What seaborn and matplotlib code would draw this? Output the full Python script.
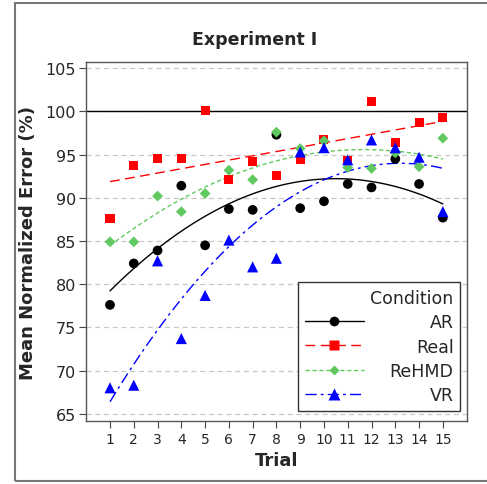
import numpy as np
import pandas as pd
import seaborn as sns
from matplotlib import pyplot as plt
from matplotlib.lines import Line2D
from matplotlib.patches import Rectangle

# Data
trials = list(range(1, 16))
ar = [77.6, 82.4, 83.9, 91.4, 84.5, 88.7, 88.6, 97.3, 88.8, 89.6, 91.6, 91.2, 94.5, 91.6, 87.7]
real = [87.6, 93.7, 94.5, 94.6, 100.1, 92.1, 94.2, 92.6, 94.4, 96.8, 94.3, 101.1, 96.4, 98.7, 99.3]
rehmd = [84.9, 84.9, 90.2, 88.4, 90.5, 93.2, 92.1, 97.6, 95.7, 96.6, 93.5, 93.4, 95.2, 93.6, 96.9]
vr = [68.0, 68.3, 82.7, 73.7, 78.7, 85.1, 82.0, 83.0, 95.3, 95.8, 94.4, 96.7, 95.8, 94.7, 88.4]

conditions = ['AR', 'Real', 'ReHMD', 'VR']
values = [ar, real, rehmd, vr]
colors = ['black', '#ff0000', '#5fc95f', '#0000ff']
markers = ['o', 's', 'D', '^']
msizes = [7, 6.5, 5.5, 8]
fit_order = [2, 1, 2, 2]
linestyles = ['-', (0, (7, 4)), (0, (3, 2)), (0, (8, 3, 2, 3))]

yticks = [65, 70, 75, 80, 85, 90, 95, 100, 105]

df = pd.DataFrame({
    'Trial': trials * 4,
    'Error': ar + real + rehmd + vr,
    'Condition': np.repeat(conditions, len(trials)),
})

sns.set_style('white')
plt.rcParams['font.family'] = ['DejaVu Sans']

fig = plt.figure(figsize=(4.87, 4.85), dpi=100)
ax = fig.add_axes([0.1756, 0.1305, 0.784, 0.739])

# grid + reference line
for y in yticks:
    ax.axhline(y, color='#c8c8c8', lw=0.9, ls=(0, (4, 3)), zorder=0)
ax.axhline(100, color='black', lw=1.0, zorder=1)

handles = []
for cond, col, mk, ms, order, ls in zip(conditions, colors, markers, msizes, fit_order, linestyles):
    sub = df[df['Condition'] == cond]
    sns.regplot(data=sub, x='Trial', y='Error', order=order, ci=None, ax=ax,
                scatter=False, truncate=True,
                line_kws=dict(color=col, lw=1.0, ls=ls, zorder=2))
    sns.scatterplot(data=sub, x='Trial', y='Error', ax=ax, color=col,
                    marker=mk, s=ms ** 2, edgecolor='none', zorder=3)
    handles.append(Line2D([], [], color=col, lw=1.0, ls=ls, marker=mk,
                          markersize=ms, markeredgecolor='none'))

ax.set_xlim(-0.03, 16.03)
ax.set_ylim(64.19, 105.69)
ax.set_xticks(trials)
ax.set_yticks(yticks)
ax.tick_params(axis='y', direction='out', length=5, width=0.8, color='#444',
               labelsize=11.5, left=True, pad=2)
ax.tick_params(axis='x', direction='out', length=5, width=0.8, color='#444',
               labelsize=10, bottom=True, pad=3)
for sp in ax.spines.values():
    sp.set_color('#555555')
    sp.set_linewidth(1.0)

ax.set_xlabel('Trial', fontsize=13, fontweight='bold', labelpad=4)
ax.set_ylabel('Mean Normalized Error (%)', fontsize=13, fontweight='bold', labelpad=6)

fig.text(0.523, 0.917, 'Experiment I', fontsize=12.5, fontweight='bold',
         ha='center', va='center')

leg = ax.legend(handles, conditions, title='Condition', loc='lower right',
                bbox_to_anchor=(0.982, 0.028), fontsize=12.5, title_fontsize=12.5,
                alignment='right', handlelength=3.4, handletextpad=1.5,
                labelspacing=0.35, borderpad=0.4, borderaxespad=0,
                fancybox=False, framealpha=1, edgecolor='#333333')
leg.get_frame().set_linewidth(1.0)

# right-align the legend labels (shift shorter ones right by the width gap)
fig.canvas.draw()
renderer = fig.canvas.get_renderer()
widths = [t.get_window_extent(renderer).width for t in leg.get_texts()]
max_w = max(widths)
for t, w in zip(leg.get_texts(), widths):
    t.set_position((max_w - w, 0))

# outer frame of the exported figure
fig.patches.append(Rectangle((15 / 487, 3 / 485), 1.2, 1 - 7 / 485,
                             transform=fig.transFigure, fill=False,
                             edgecolor='#777777', lw=1.5))

fig.savefig('out.png', dpi=100)
